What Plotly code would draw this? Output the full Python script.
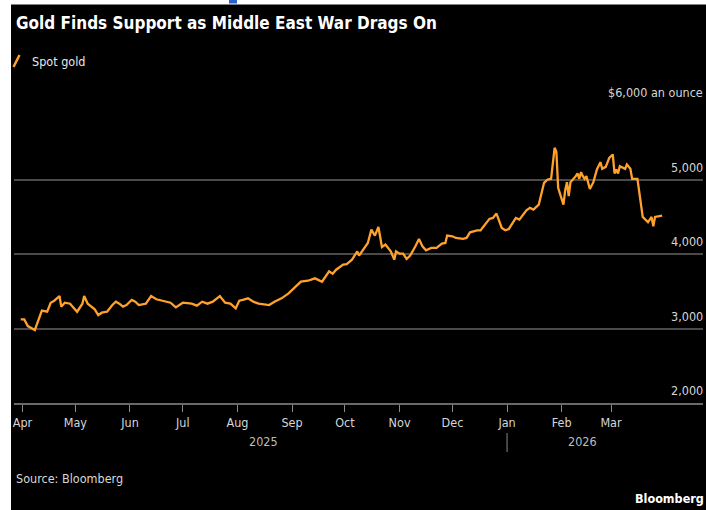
import plotly.graph_objects as go

# ---- data ----
dates = [
    "2025-03-31", "2025-04-02", "2025-04-04", "2025-04-08", "2025-04-12", "2025-04-15",
    "2025-04-17", "2025-04-19", "2025-04-22", "2025-04-23", "2025-04-25", "2025-04-28",
    "2025-05-02", "2025-05-05", "2025-05-06", "2025-05-08", "2025-05-12", "2025-05-14",
    "2025-05-16", "2025-05-19", "2025-05-22", "2025-05-24", "2025-05-26", "2025-05-28",
    "2025-05-30", "2025-06-02", "2025-06-04", "2025-06-06", "2025-06-10", "2025-06-13",
    "2025-06-16", "2025-06-20", "2025-06-24", "2025-06-27", "2025-07-01", "2025-07-06",
    "2025-07-09", "2025-07-12", "2025-07-15", "2025-07-18", "2025-07-22", "2025-07-25",
    "2025-07-28", "2025-07-31", "2025-08-02", "2025-08-04", "2025-08-07", "2025-08-10",
    "2025-08-13", "2025-08-19", "2025-08-22", "2025-08-26", "2025-08-30", "2025-09-03",
    "2025-09-06", "2025-09-10", "2025-09-14", "2025-09-18", "2025-09-22", "2025-09-24",
    "2025-09-26", "2025-09-30", "2025-10-02", "2025-10-05", "2025-10-08", "2025-10-09",
    "2025-10-12", "2025-10-14", "2025-10-16", "2025-10-18", "2025-10-20", "2025-10-22",
    "2025-10-24", "2025-10-27", "2025-10-29", "2025-10-30", "2025-11-01", "2025-11-03",
    "2025-11-05", "2025-11-07", "2025-11-10", "2025-11-12", "2025-11-14", "2025-11-16",
    "2025-11-19", "2025-11-22", "2025-11-25", "2025-11-27", "2025-11-28", "2025-12-01",
    "2025-12-03", "2025-12-07", "2025-12-09", "2025-12-11", "2025-12-15", "2025-12-17",
    "2025-12-18", "2025-12-22", "2025-12-24", "2025-12-26", "2025-12-29", "2025-12-31",
    "2026-01-02", "2026-01-05", "2026-01-06", "2026-01-08", "2026-01-12", "2026-01-14",
    "2026-01-16", "2026-01-19", "2026-01-22", "2026-01-24", "2026-01-26", "2026-01-28",
    "2026-01-29", "2026-01-30", "2026-02-02", "2026-02-03", "2026-02-04", "2026-02-05",
    "2026-02-06", "2026-02-09", "2026-02-10", "2026-02-11", "2026-02-12", "2026-02-13",
    "2026-02-14", "2026-02-15", "2026-02-17", "2026-02-19", "2026-02-21", "2026-02-23",
    "2026-02-24", "2026-02-26", "2026-02-28", "2026-03-02", "2026-03-03", "2026-03-04",
    "2026-03-05", "2026-03-06", "2026-03-08", "2026-03-09", "2026-03-10", "2026-03-12",
    "2026-03-13", "2026-03-16", "2026-03-19", "2026-03-22", "2026-03-24", "2026-03-25",
    "2026-03-26", "2026-03-28", "2026-03-30",
]
spot_gold = [
    3123, 3123, 3033, 2980, 3239, 3225,
    3346, 3373, 3436, 3293, 3346, 3333,
    3225, 3333, 3436, 3333, 3258, 3181,
    3212, 3225, 3315, 3360, 3333, 3293,
    3315, 3383, 3360, 3315, 3333, 3436,
    3392, 3373, 3346, 3284, 3346, 3333,
    3306, 3360, 3333, 3360, 3436, 3346,
    3333, 3270, 3373, 3383, 3405, 3360,
    3333, 3315, 3360, 3405, 3472, 3561,
    3628, 3641, 3673, 3628, 3767, 3735,
    3789, 3857, 3865, 3924, 4036, 3978,
    4081, 4148, 4327, 4247, 4363, 4094,
    4126, 4036, 3924, 4036, 4004, 4004,
    3933, 3978, 4103, 4202, 4103, 4049,
    4081, 4081, 4139, 4148, 4247, 4238,
    4215, 4202, 4215, 4291, 4318, 4318,
    4350, 4471, 4484, 4543, 4350, 4318,
    4336, 4439, 4484, 4462, 4587, 4619,
    4596, 4664, 4955, 5000, 5009, 5426,
    5368, 4888, 4664, 4857, 4964, 4776,
    4964, 5045, 5081, 5009, 5099, 5045,
    5009, 5045, 4874, 4964, 5135, 5233,
    5143, 5170, 5291, 5336, 5081, 5135,
    5081, 5179, 5157, 5143, 5202, 5143,
    5009, 5009, 4498, 4426, 4498, 4372,
    4498, 4507, 4516,
]

month_ticks = ["2025-04-01", "2025-05-01", "2025-06-01", "2025-07-01", "2025-08-01",
               "2025-09-01", "2025-10-01", "2025-11-01", "2025-12-01", "2026-01-01",
               "2026-02-01", "2026-03-01"]
month_labels = ["Apr", "May", "Jun", "Jul", "Aug", "Sep", "Oct", "Nov", "Dec", "Jan",
                "Feb", "Mar"]
y_ticks = [2000, 3000, 4000, 5000, 6000]
y_labels = ["2,000", "3,000", "4,000", "5,000", "$6,000 an ounce"]
years = ["2025", "2026"]
year_centers = ["2025-08-16", "2026-02-13"]

# ---- layout helpers ----
W, H = 706, 510
ML, MR, MT, MB = 14, 3, 105, 107
PW, PH = W - ML - MR, H - MT - MB


def px(x):
    return (x - ML) / PW


def py(y):
    return (H - MB - y) / PH


FONT = "Noto Sans Condensed, DejaVu Sans Condensed, sans-serif"
ORANGE = "#FFA12B"
TXT = "#d6d6d6"
GRID = "#4a4a4a"

fig = go.Figure()
fig.add_trace(go.Scatter(x=dates, y=spot_gold, mode="lines",
                         line=dict(color=ORANGE, width=2.3), name="Spot gold",
                         hoverinfo="x+y"))

annotations = []
for v, lab in zip(y_ticks, y_labels):
    annotations.append(dict(x=1, xref="paper", y=v, yref="y", text=lab,
                            xanchor="right", yanchor="bottom", yshift=3, xshift=2,
                            showarrow=False, font=dict(family=FONT, size=12.5, color=TXT)))
for yr, xc in zip(years, year_centers):
    annotations.append(dict(x=xc, xref="x", y=py(441), yref="paper", text=yr,
                            xanchor="center", yanchor="middle", showarrow=False,
                            font=dict(family=FONT, size=12.5, color="#bdbdbd")))
annotations += [
    dict(x=px(14), y=py(23), xref="paper", yref="paper", xanchor="left", yanchor="middle",
         text="<b>Gold Finds Support as Middle East War Drags On</b>", showarrow=False,
         font=dict(family=FONT, size=17, color="#ffffff")),
    dict(x=px(30), y=py(61), xref="paper", yref="paper", xanchor="left", yanchor="middle",
         text="Spot gold", showarrow=False, font=dict(family=FONT, size=12.5, color="#e8e8e8")),
    dict(x=px(14), y=py(478), xref="paper", yref="paper", xanchor="left", yanchor="middle",
         text="Source: Bloomberg", showarrow=False, font=dict(family=FONT, size=12.5, color="#d8d8d8")),
    dict(x=px(704), y=py(498), xref="paper", yref="paper", xanchor="right", yanchor="middle",
         xshift=2, text="<b>Bloomberg</b>", showarrow=False,
         font=dict(family=FONT, size=12.5, color="#ffffff")),
]

shapes = [
    # legend slash
    dict(type="line", xref="paper", yref="paper", x0=px(13.5), y0=py(67), x1=px(19.5), y1=py(55),
         line=dict(color=ORANGE, width=2.5)),
    # year separator
    dict(type="line", xref="x", yref="paper", x0="2026-01-01", x1="2026-01-01",
         y0=py(433), y1=py(452), line=dict(color="#8a8a8a", width=1)),
    # white page edges
    dict(type="rect", xref="paper", yref="paper", x0=px(-5), x1=px(11), y0=py(520), y1=py(-5),
         fillcolor="white", line=dict(width=0)),
    dict(type="rect", xref="paper", yref="paper", x0=px(-5), x1=px(712), y0=py(4.5), y1=py(-5),
         fillcolor="white", line=dict(width=0)),
    dict(type="rect", xref="paper", yref="paper", x0=px(229), x1=px(237), y0=py(3.5), y1=py(-1),
         fillcolor="#2a63c8", line=dict(width=0)),
]

fig.update_layout(
    width=W, height=H,
    margin=dict(l=ML, r=MR, t=MT, b=MB, pad=0),
    paper_bgcolor="#000000", plot_bgcolor="#000000",
    showlegend=False,
    font=dict(family=FONT, size=12.5, color=TXT),
    annotations=annotations, shapes=shapes,
    xaxis=dict(type="date", range=["2025-03-27 04:13", "2026-04-22 05:00"],
               tickmode="array", tickvals=month_ticks, ticktext=month_labels,
               ticks="outside", ticklen=7, tickwidth=1, tickcolor="#8a8a8a",
               showline=True, linecolor="#6a6a6a", linewidth=2,
               showgrid=False, zeroline=False,
               tickfont=dict(family=FONT, size=12.5, color=TXT), fixedrange=True),
    yaxis=dict(range=[2000, 6000], tickmode="array", tickvals=y_ticks,
               showticklabels=False, showgrid=True, gridcolor=GRID, gridwidth=2,
               zeroline=False, showline=False, ticks="", fixedrange=True),
)

fig.write_html("out.html", config={"displayModeBar": False},
               post_script="document.body.style.margin='0';document.body.style.overflow='hidden';")
